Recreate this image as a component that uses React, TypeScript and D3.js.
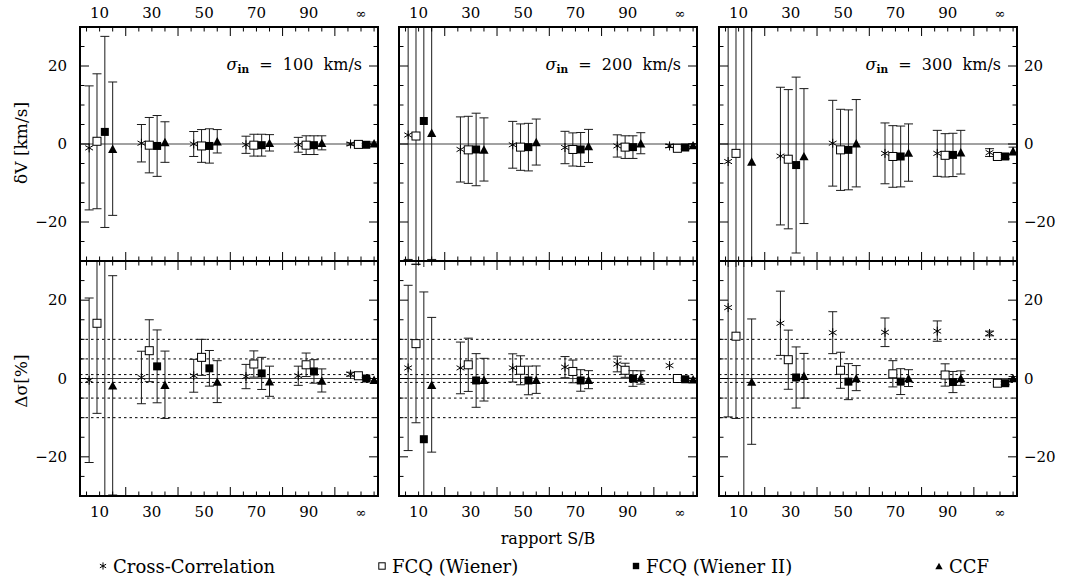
import React from "react";
import * as d3 from "d3";

// ---------- categories / labels ----------
const SB_LABELS = ["10", "30", "50", "70", "90", "∞"];
const SB_POS = [10, 30, 50, 70, 90, 110];
const SIGMA_IN = [100, 200, 300];
const METHOD_NAMES = ["Cross-Correlation", "FCQ (Wiener)", "FCQ (Wiener II)", "CCF"];
const Y_TICK_LABELS = [-20, 0, 20];
const DS_REF_LINES = [-10, -5, -1, 1, 5, 10];

// ---------- δV [km/s] ----------
// sigma_in = 100
const dv100_cc_val = [-1.0, 0.2, 0.0, -0.2, -0.2, 0.0];
const dv100_cc_err = [15.9, 4.8, 3.2, 2.2, 1.9, 0.3];
const dv100_fw_val = [0.7, -0.3, -0.5, -0.3, -0.3, -0.1];
const dv100_fw_err = [17.3, 7.1, 4.2, 2.8, 2.4, 0.3];
const dv100_fw2_val = [3.1, -0.5, -0.5, -0.3, -0.3, -0.2];
const dv100_fw2_err = [24.5, 7.8, 4.4, 2.8, 2.4, 0.3];
const dv100_ccf_val = [-1.2, 0.5, 0.7, 0.3, 0.3, 0.2];
const dv100_ccf_err = [17.1, 5.2, 3.0, 2.1, 1.8, 0.3];
// sigma_in = 200
const dv200_cc_val = [2.3, -1.4, -0.2, -0.9, -0.5, -0.5];
const dv200_cc_err = [31.9, 8.35, 6.0, 4.15, 2.85, 0.4];
const dv200_fw_val = [2.05, -1.5, -0.8, -1.4, -0.8, -1.1];
const dv200_fw_err = [32.85, 8.6, 5.95, 4.25, 2.9, 0.4];
const dv200_fw2_val = [5.9, -1.4, -0.8, -1.4, -0.8, -0.9];
const dv200_fw2_err = [40, 9.3, 6.1, 4.35, 2.9, 0.4];
const dv200_ccf_val = [2.9, -1.4, 0.5, -0.5, 0.2, -0.3];
const dv200_ccf_err = [32.5, 8.1, 5.9, 4.25, 2.7, 0.4];
// sigma_in = 300
const dv300_cc_val = [-4.5, -3.1, 0.2, -2.4, -2.4, -2.2];
const dv300_cc_err = [45, 17.65, 11.0, 7.8, 5.9, 1.0];
const dv300_fw_val = [-2.4, -3.9, -1.5, -3.2, -2.9, -3.2];
const dv300_fw_err = [45, 17.85, 10.4, 7.9, 5.55, 0.6];
const dv300_fw2_val = [40, -5.4, -1.5, -3.2, -2.8, -3.2];
const dv300_fw2_err = [80, 22.55, 10.25, 7.8, 5.55, 0.6];
const dv300_ccf_val = [-4.5, -3.1, 0.2, -2.2, -2.1, -1.8];
const dv300_ccf_err = [45, 17.3, 11.2, 7.35, 5.6, 1.0];

// ---------- Δσ [%] ----------
// sigma_in = 100
const ds100_cc_val = [-0.45, 0.26, 0.7, 0.5, 0.7, 1.1];
const ds100_cc_err = [21.0, 6.7, 4.2, 3.1, 2.45, 0.5];
const ds100_fw_val = [14.1, 7.1, 5.4, 3.7, 3.5, 0.7];
const ds100_fw_err = [23.0, 7.9, 4.6, 3.35, 3.0, 0.3];
const ds100_fw2_val = [45, 3.1, 2.6, 1.3, 1.8, 0.0];
const ds100_fw2_err = [80, 9.3, 4.55, 4.1, 3.0, 0.3];
const ds100_ccf_val = [-1.75, -1.6, -0.8, -0.7, -0.5, -0.3];
const ds100_ccf_err = [28.0, 8.6, 5.35, 3.85, 2.95, 0.3];
// sigma_in = 200
const ds200_cc_val = [2.7, 2.7, 2.7, 2.9, 3.7, 3.3];
const ds200_cc_err = [21.1, 6.6, 3.6, 2.7, 2.0, 0];
const ds200_fw_val = [8.9, 3.5, 2.1, 1.8, 2.1, 0.0];
const ds200_fw_err = [20.2, 6.8, 3.7, 2.9, 1.8, 0.3];
const ds200_fw2_val = [-15.5, -0.5, -0.5, -0.5, 0.0, -0.2];
const ds200_fw2_err = [37.6, 6.85, 3.65, 2.75, 2.0, 0.3];
const ds200_ccf_val = [-1.6, -0.3, -0.3, -0.3, 0.26, -0.2];
const ds200_ccf_err = [17.2, 5.45, 3.5, 2.3, 1.7, 0.3];
// sigma_in = 300
const ds300_cc_val = [18.1, 14.1, 11.7, 11.8, 12.1, 11.5];
const ds300_cc_err = [27.9, 8.2, 5.35, 3.65, 2.6, 0.6];
const ds300_fw_val = [10.8, 4.8, 2.1, 1.2, 0.9, -1.2];
const ds300_fw_err = [21.0, 7.55, 4.6, 3.35, 2.85, 0.4];
const ds300_fw2_val = [45, 0.26, -0.8, -0.8, -0.9, -1.2];
const ds300_fw2_err = [80, 7.8, 4.6, 3.3, 2.7, 0.4];
const ds300_ccf_val = [-0.8, 0.7, 0.1, 0.1, 0.1, 0.1];
const ds300_ccf_err = [16.0, 5.7, 3.2, 2.15, 1.85, 0.4];

type Series = { val: number[]; err: number[] };
const DV: Series[][] = [
  [
    { val: dv100_cc_val, err: dv100_cc_err },
    { val: dv100_fw_val, err: dv100_fw_err },
    { val: dv100_fw2_val, err: dv100_fw2_err },
    { val: dv100_ccf_val, err: dv100_ccf_err },
  ],
  [
    { val: dv200_cc_val, err: dv200_cc_err },
    { val: dv200_fw_val, err: dv200_fw_err },
    { val: dv200_fw2_val, err: dv200_fw2_err },
    { val: dv200_ccf_val, err: dv200_ccf_err },
  ],
  [
    { val: dv300_cc_val, err: dv300_cc_err },
    { val: dv300_fw_val, err: dv300_fw_err },
    { val: dv300_fw2_val, err: dv300_fw2_err },
    { val: dv300_ccf_val, err: dv300_ccf_err },
  ],
];
const DS: Series[][] = [
  [
    { val: ds100_cc_val, err: ds100_cc_err },
    { val: ds100_fw_val, err: ds100_fw_err },
    { val: ds100_fw2_val, err: ds100_fw2_err },
    { val: ds100_ccf_val, err: ds100_ccf_err },
  ],
  [
    { val: ds200_cc_val, err: ds200_cc_err },
    { val: ds200_fw_val, err: ds200_fw_err },
    { val: ds200_fw2_val, err: ds200_fw2_err },
    { val: ds200_ccf_val, err: ds200_ccf_err },
  ],
  [
    { val: ds300_cc_val, err: ds300_cc_err },
    { val: ds300_fw_val, err: ds300_fw_err },
    { val: ds300_fw2_val, err: ds300_fw2_err },
    { val: ds300_ccf_val, err: ds300_ccf_err },
  ],
];

// ---------- layout ----------
const W = 1066;
const H = 583;
const COL_X = [80, 399, 719];
const PANEL_W = 298;
const ROW_TOP = [27, 261];
const ROW_BOT = [261, 496];
const METHOD_OFFSET = [-4, -1, 2, 5];
const FONT = "'DejaVu Serif', serif";
const INK = "#000";

function Marker({ kind, x, y, s = 1 }: { kind: number; x: number; y: number; s?: number }) {
  if (kind === 0) {
    const r = 4.5 * s;
    const a = r * Math.cos(Math.PI / 6);
    const b = r * Math.sin(Math.PI / 6);
    return (
      <g stroke={INK} strokeWidth={1}>
        <line x1={x} y1={y - r} x2={x} y2={y + r} />
        <line x1={x - a} y1={y - b} x2={x + a} y2={y + b} />
        <line x1={x - a} y1={y + b} x2={x + a} y2={y - b} />
      </g>
    );
  }
  if (kind === 1) {
    const h = 4 * s;
    return <rect x={x - h} y={y - h} width={2 * h} height={2 * h} fill="#fff" stroke={INK} strokeWidth={1} />;
  }
  if (kind === 2) {
    const h = 4 * s;
    return <rect x={x - h} y={y - h} width={2 * h} height={2 * h} fill={INK} />;
  }
  const w = 4.6 * s;
  const hh = 4.2 * s;
  return <path d={`M${x - w},${y + hh}L${x + w},${y + hh}L${x},${y - hh}Z`} fill={INK} />;
}

function Panel({ col, row }: { col: number; row: number }) {
  const x0 = COL_X[col];
  const x1 = x0 + PANEL_W;
  const y0 = ROW_TOP[row];
  const y1 = ROW_BOT[row];
  const x = d3.scaleLinear().domain([2.5, 116.5]).range([x0, x1]);
  const y = d3.scaleLinear().domain([-30, 30]).range([y1, y0]);
  const data = row === 0 ? DV[col] : DS[col];
  const clipId = `clip-${row}-${col}`;
  const xMinor = d3.range(5, 116, 5);
  const yMinor = d3.range(-25, 26, 5);
  const cap = 4.5;
  return (
    <g>
      <defs>
        <clipPath id={clipId}>
          <rect x={x0} y={y0} width={PANEL_W} height={y1 - y0 + (row === 0 ? 6 : 0)} />
        </clipPath>
      </defs>
      {row === 1 &&
        DS_REF_LINES.map((v) => (
          <line key={v} x1={x0} x2={x1} y1={y(v)} y2={y(v)} stroke={INK} strokeWidth={1} strokeDasharray="2.5,3" />
        ))}
      <line x1={x0} x2={x1} y1={y(0)} y2={y(0)} stroke="#444" strokeWidth={1.2} />
      <g clipPath={`url(#${clipId})`}>
        {data.map((s, m) =>
          s.val.map((v, i) => {
            const px = x(SB_POS[i] + METHOD_OFFSET[m]);
            const e = s.err[i];
            const ylo = y(v - e);
            const yhi = y(v + e);
            return (
              <g key={`${m}-${i}`}>
                {e > 0 && (
                  <g stroke="#1a1a1a" strokeWidth={1}>
                    <line x1={px} x2={px} y1={ylo} y2={yhi} />
                    <line x1={px - cap} x2={px + cap} y1={ylo} y2={ylo} />
                    <line x1={px - cap} x2={px + cap} y1={yhi} y2={yhi} />
                  </g>
                )}
                <Marker kind={m} x={px} y={y(v)} />
              </g>
            );
          })
        )}
      </g>
      <g stroke={INK} strokeWidth={1}>
        {xMinor.map((t) => {
          const len = t % 20 === 0 ? 9 : 4.5;
          return (
            <g key={t}>
              <line x1={x(t)} x2={x(t)} y1={y0} y2={y0 + len} />
              <line x1={x(t)} x2={x(t)} y1={y1} y2={y1 - len} />
            </g>
          );
        })}
        {yMinor.map((t) => {
          const len = t % 20 === 0 ? 9 : 4.5;
          return (
            <g key={t}>
              <line x1={x0} x2={x0 + len} y1={y(t)} y2={y(t)} />
              <line x1={x1} x2={x1 - len} y1={y(t)} y2={y(t)} />
            </g>
          );
        })}
      </g>
      <rect x={x0} y={y0} width={PANEL_W} height={y1 - y0} fill="none" stroke={INK} strokeWidth={2} />
      {SB_LABELS.map((lab, i) => (
        <text
          key={lab}
          x={x(SB_POS[i])}
          y={row === 0 ? 18 : 517}
          textAnchor="middle"
          fontFamily={FONT}
          fontSize={lab === "∞" ? 13 : 15}
          fill={INK}
        >
          {lab}
        </text>
      ))}
      {col === 0 &&
        Y_TICK_LABELS.map((t) => (
          <text key={t} x={67} y={y(t) + 5} textAnchor="end" fontFamily={FONT} fontSize={15} fill={INK}>
            {t < 0 ? `−${-t}` : `${t}`}
          </text>
        ))}
      {col === 2 &&
        Y_TICK_LABELS.map((t) => (
          <text key={t} x={1024} y={y(t) + 5} textAnchor="start" fontFamily={FONT} fontSize={15} fill={INK}>
            {t < 0 ? `−${-t}` : `${t}`}
          </text>
        ))}
      {row === 0 && (
        <text x={x1 - 16} y={70} textAnchor="end" fontFamily={FONT} fontSize={16} fill={INK} style={{ whiteSpace: "pre" }}>
          <tspan fontStyle="italic">σ</tspan>
          <tspan fontSize={10.5} fontWeight="bold" dy={3}>in</tspan>
          <tspan dy={-3}>{`  =  ${SIGMA_IN[col]}  km/s`}</tspan>
        </text>
      )}
    </g>
  );
}

const LEGEND_MARK_X = [103, 382, 636, 939];

export default function App() {
  return (
    <svg width={W} height={H} style={{ display: "block", position: "absolute", left: 0, top: 0, background: "#fff" }}>
      <rect x={0} y={0} width={W} height={H} fill="#fff" />
      {[0, 1].map((row) => [0, 1, 2].map((col) => <Panel key={`${row}-${col}`} row={row} col={col} />))}
      <text transform="translate(27,143) rotate(-90)" textAnchor="middle" fontFamily={FONT} fontSize={17} fill={INK}>
        δV [km/s]
      </text>
      <text transform="translate(27,381) rotate(-90)" textAnchor="middle" fontFamily={FONT} fontSize={17} fill={INK}>
        Δσ[%]
      </text>
      <text x={548} y={544} textAnchor="middle" fontFamily={FONT} fontSize={16} fill={INK}>
        rapport S/B
      </text>
      {METHOD_NAMES.map((name, m) => (
        <g key={name}>
          <Marker kind={m} x={LEGEND_MARK_X[m]} y={566} s={0.8} />
          <text x={LEGEND_MARK_X[m] + 10} y={573} fontFamily={FONT} fontSize={18} fill={INK}>
            {name}
          </text>
        </g>
      ))}
    </svg>
  );
}
